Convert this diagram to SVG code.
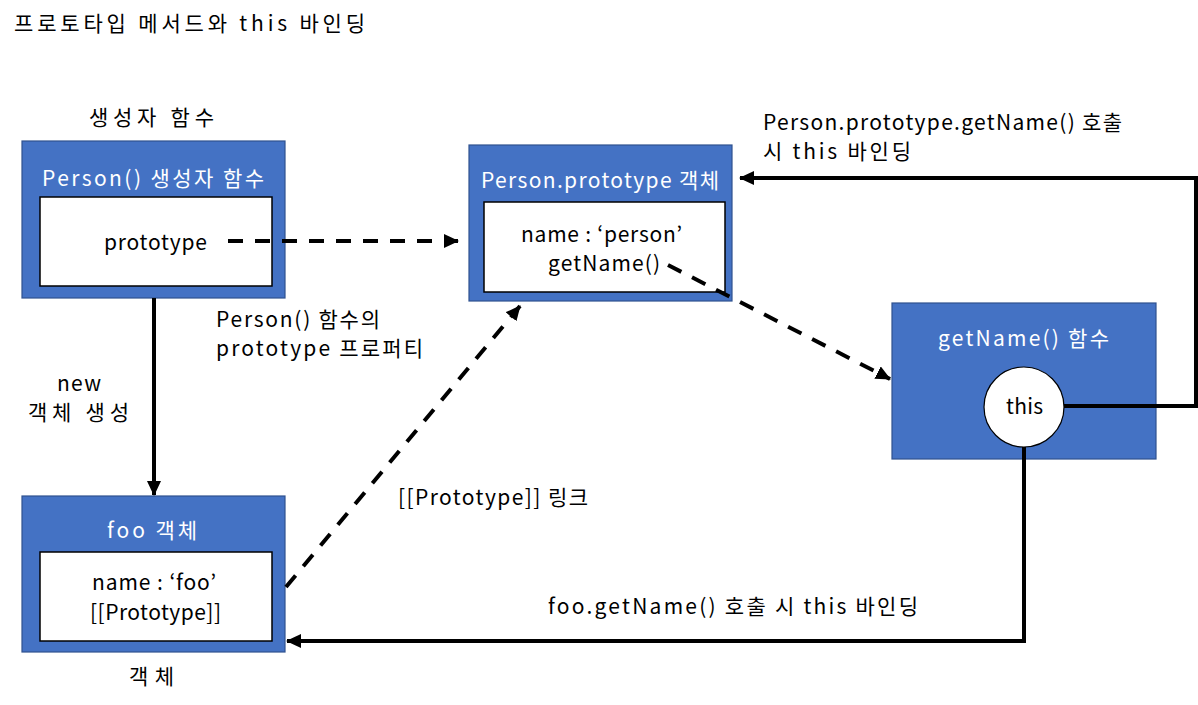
<svg xmlns="http://www.w3.org/2000/svg" width="1198" height="705" viewBox="0 0 1198 705">
<defs>
<style>
text{font-family:"Noto Sans CJK KR","Noto Sans",sans-serif;font-size:21px;fill:#000}
.w{fill:#fff}
.box{fill:#4472C4;stroke:#2F528F;stroke-width:1.2}
.inner{fill:#fff;stroke:#000;stroke-width:1.5}
.c{fill:none;stroke:#000;stroke-width:4}
.d{stroke-dasharray:15 12}
</style>
<marker id="ah" markerUnits="userSpaceOnUse" markerWidth="16" markerHeight="14" refX="14" refY="7" orient="auto">
<path d="M0,0 L15,7 L0,14 Z" fill="#000"/>
</marker>
</defs>
<rect width="1198" height="705" fill="#fff"/>
<text x="14" y="31" textLength="351" lengthAdjust="spacing">프로토타입 메서드와 this 바인딩</text>

<g id="person-ctor">
<text x="89" y="125" textLength="125" lengthAdjust="spacing">생성자 함수</text>
<rect class="box" x="22" y="141" width="263" height="157"/>
<text class="w" x="42" y="186" textLength="222" lengthAdjust="spacing">Person() 생성자 함수</text>
<rect class="inner" x="40" y="197" width="232" height="89"/>
<text x="104" y="250" textLength="103" lengthAdjust="spacing">prototype</text>
</g>

<g id="person-prototype">
<rect class="box" x="469" y="145" width="263" height="156"/>
<text class="w" x="481" y="188" textLength="238" lengthAdjust="spacing">Person.prototype  객체</text>
<rect class="inner" x="484" y="202" width="241" height="90"/>
<text x="521" y="242" textLength="161" lengthAdjust="spacing">name : ‘person’</text>
<text x="548" y="271" textLength="112" lengthAdjust="spacing">getName()</text>
</g>

<g id="getname-fn">
<rect class="box" x="892" y="303" width="264" height="156"/>
<text class="w" x="938" y="346" textLength="171" lengthAdjust="spacing">getName()  함수</text>
<circle cx="1024" cy="407" r="40" fill="#fff" stroke="#000" stroke-width="1.2"/>
<text x="1006" y="414" textLength="37" lengthAdjust="spacing">this</text>
</g>

<g id="foo">
<rect class="box" x="22" y="496" width="263" height="156"/>
<text class="w" x="107" y="538" textLength="90" lengthAdjust="spacing">foo 객체</text>
<rect class="inner" x="40" y="552" width="232" height="89"/>
<text x="92" y="590" textLength="124" lengthAdjust="spacing">name : ‘foo’</text>
<text x="90" y="620" textLength="131" lengthAdjust="spacing">[[Prototype]]</text>
<text x="129" y="684" textLength="45" lengthAdjust="spacing">객체</text>
</g>

<g id="labels">
<text x="216" y="327" textLength="164" lengthAdjust="spacing">Person()  함수의</text>
<text x="216" y="356" textLength="207" lengthAdjust="spacing">prototype  프로퍼티</text>
<text x="57" y="391" textLength="44" lengthAdjust="spacing">new</text>
<text x="28" y="420" textLength="101" lengthAdjust="spacing">객체 생성</text>
<text x="398" y="505" textLength="190" lengthAdjust="spacing">[[Prototype]]  링크</text>
<text x="548" y="614" textLength="370" lengthAdjust="spacing">foo.getName() 호출 시 this 바인딩</text>
<text x="763" y="130" textLength="359" lengthAdjust="spacing">Person.prototype.getName()  호출</text>
<text x="763" y="159" textLength="148" lengthAdjust="spacing">시 this 바인딩</text>
</g>

<g id="connectors">
<line class="c d" x1="228" y1="241" x2="458" y2="241" marker-end="url(#ah)"/>
<line class="c d" x1="668" y1="265" x2="890" y2="379" marker-end="url(#ah)"/>
<line class="c" x1="154" y1="298" x2="154" y2="495" marker-end="url(#ah)"/>
<line class="c d" x1="286" y1="587" x2="520" y2="306" marker-end="url(#ah)"/>
<polyline class="c" points="1064,406 1196,406 1196,178 740,178" marker-end="url(#ah)"/>
<polyline class="c" points="1024,447 1024,641 287,641" marker-end="url(#ah)"/>
</g>
</svg>
